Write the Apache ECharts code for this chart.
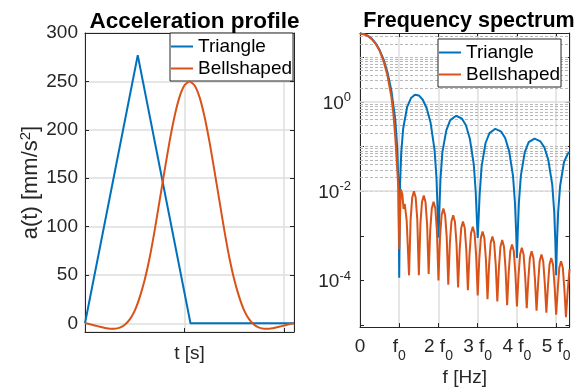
<!DOCTYPE html>
<html><head><meta charset="utf-8">
<script src="https://cdn.jsdelivr.net/npm/echarts@6/dist/echarts.min.js"></script>
<style>html,body{margin:0;padding:0;background:#fff}#c{width:574px;height:392px}</style>
</head><body><div id="c"></div>
<script>
// ---------- data ----------
// Acceleration profile (time in tick units, acceleration in mm/s^2)
const triT = [0, 0.53, 1.06, 2.1];
const triA = [0, 277, 0, 0];
const bellT = [0, 0.05, 0.1, 0.15, 0.2, 0.25, 0.3, 0.35, 0.4, 0.45, 0.5, 0.55, 0.6, 0.65, 0.7, 0.75, 0.8, 0.85, 0.9, 0.95, 1.0, 1.05,
               1.1, 1.15, 1.2, 1.25, 1.3, 1.35, 1.4, 1.45, 1.5, 1.55, 1.6, 1.65, 1.7, 1.75, 1.8, 1.85, 1.9, 1.95, 2.0, 2.05, 2.1];
const bellA = [0, -1.0, -2.3, -3.6, -4.8, -5.6, -5.6, -4.5, -1.5, 4, 13, 27, 45, 68, 96, 127, 158, 188, 214, 234, 246, 250,
               246, 234, 214, 188, 158, 127, 96, 68, 45, 27, 13, 4, -1.5, -4.5, -5.6, -5.6, -4.8, -3.6, -2.3, -1.0, 0];
const accTicks = [0, 50, 100, 150, 200, 250, 300];

// Frequency spectrum (frequency in multiples of f0)
const triF = [0, 0.1, 0.2, 0.3, 0.4, 0.5, 0.6, 0.7, 0.8, 0.9, 0.95, 0.98, 1.0, 1.02, 1.05, 1.1, 1.2, 1.3, 1.4, 1.5, 1.6, 1.7, 1.8, 1.9, 1.95, 1.98,
              2.0, 2.02, 2.05, 2.1, 2.2, 2.3, 2.45, 2.6, 2.7, 2.8, 2.9, 2.95, 2.98, 3.0, 3.02, 3.05, 3.1, 3.2, 3.3, 3.45, 3.6, 3.7, 3.8, 3.9, 3.95, 3.98,
              4.0, 4.02, 4.05, 4.1, 4.2, 4.3, 4.45, 4.6, 4.7, 4.8, 4.9, 4.95, 4.98, 5.0, 5.02, 5.05, 5.1, 5.2, 5.3, 5.34];
const triS = [34, 33, 30.5, 26, 20.5, 14.5, 9, 4.6, 1.8, 0.40, 0.093, 0.014, 0.000115, 0.013, 0.07, 0.25, 0.76, 1.22, 1.44, 1.40, 1.12, 0.72, 0.34, 0.084, 0.02, 0.0033,
              0.0009, 0.003, 0.018, 0.075, 0.23, 0.39, 0.49, 0.42, 0.30, 0.15, 0.04, 0.0095, 0.0022, 0.0009, 0.0021, 0.0085, 0.036, 0.12, 0.2, 0.25, 0.215, 0.155, 0.08, 0.022, 0.0055, 0.0012,
              0.00032, 0.0011, 0.0055, 0.022, 0.075, 0.125, 0.15, 0.13, 0.095, 0.05, 0.014, 0.0035, 0.0007, 0.00013, 0.0007, 0.0033, 0.013, 0.045, 0.07, 0.075];
const bellF = [0, 0.1, 0.2, 0.3, 0.4, 0.5, 0.6, 0.7, 0.8, 0.85, 0.9, 0.95, 0.98, 1.0, 1.04, 1.08, 1.11, 1.14, 1.19,
  1.25, 1.29, 1.33, 1.375, 1.42, 1.46,
  1.5, 1.54, 1.58, 1.625, 1.67, 1.71,
  1.75, 1.79, 1.83, 1.875, 1.92, 1.96,
  2.0, 2.04, 2.08, 2.125, 2.17, 2.21,
  2.25, 2.29, 2.33, 2.375, 2.42, 2.46,
  2.5, 2.54, 2.58, 2.625, 2.67, 2.71,
  2.75, 2.79, 2.83, 2.875, 2.92, 2.96,
  3.0, 3.04, 3.08, 3.125, 3.17, 3.21,
  3.25, 3.29, 3.33, 3.375, 3.42, 3.46,
  3.5, 3.54, 3.58, 3.625, 3.67, 3.71,
  3.75, 3.79, 3.83, 3.875, 3.92, 3.96,
  4.0, 4.04, 4.08, 4.125, 4.17, 4.21,
  4.25, 4.29, 4.33, 4.375, 4.42, 4.46,
  4.5, 4.54, 4.58, 4.625, 4.67, 4.71,
  4.75, 4.79, 4.83, 4.875, 4.92, 4.96,
  5.0, 5.04, 5.08, 5.125, 5.17, 5.21,
  5.25, 5.29, 5.34];
const bellS = [34, 33, 30, 25.5, 20, 14, 8.3, 3.9, 1.3, 0.55, 0.16, 0.03, 0.011, 0.0005, 0.011, 0.0085, 0.004, 0.0052, 0.0022,
  0.00013, 0.0023, 0.0071, 0.0100, 0.0071, 0.0023,
  0.00013, 0.00184, 0.0057, 0.0080, 0.0057, 0.00184,
  0.00014, 0.00133, 0.0041, 0.0058, 0.0041, 0.00133,
  0.00010, 0.00094, 0.0029, 0.0041, 0.0029, 0.00094,
  0.00008, 0.00067, 0.00206, 0.0029, 0.00206, 0.00067,
  0.00007, 0.00048, 0.00149, 0.0021, 0.00149, 0.00048,
  0.00006, 0.00037, 0.00114, 0.0016, 0.00114, 0.00037,
  0.000046, 0.00029, 0.00089, 0.00125, 0.00089, 0.00029,
  0.000038, 0.00022, 0.00069, 0.00097, 0.00069, 0.00022,
  0.000034, 0.000184, 0.00057, 0.0008, 0.00057, 0.000184,
  0.000028, 0.000147, 0.000455, 0.00064, 0.000455, 0.000147,
  0.000026, 0.000124, 0.000383, 0.00054, 0.000383, 0.000124,
  0.000024, 0.000104, 0.00032, 0.00045, 0.00032, 0.000104,
  0.000021, 0.000087, 0.00027, 0.00038, 0.00027, 0.000087,
  0.000019, 0.000074, 0.000227, 0.00032, 0.000227, 0.000074,
  0.000017, 0.000062, 0.000192, 0.00027, 0.000192, 0.000062,
  0.000015, 0.000053, 0.00018];
const freqTickLabels = ['0', 'f0', '2 f0', '3 f0', '4 f0', '5 f0'];
const specLabelExps = [-4, -2, 0];
const seriesNames = ['Triangle', 'Bellshaped'];

// ---------- styling ----------
const FONT = 'Liberation Sans';
const AX = '#262626';
const GRIDC = '#dedede';
const MINORC = '#b8b8b8';
const BLUE = '#0072BD', ORANGE = '#D95319';
const G0 = {left: 85, top: 33, width: 209, height: 299};
const G1 = {left: 360, top: 33, width: 209.5, height: 299};

const chart = echarts.init(document.getElementById('c'), null, {renderer: 'canvas'});
const zip = (a, b) => a.map((v, i) => [v, b[i]]);

const axLine = {show: true, onZero: false, lineStyle: {color: AX, width: 1}};
const axTick = {show: true, inside: true, length: 4, lineStyle: {color: AX, width: 1}};

// minor log grid (decoration)
const minorLines = [], majorLines = [];
for (let e = -6; e <= 1; e++) {
  for (let m = 1; m <= 9; m++) {
    const v = m * Math.pow(10, e);
    if (v <= 9e-6 || v >= 35) continue;
    if (m === 1 && specLabelExps.includes(e)) majorLines.push({yAxis: v});
    else minorLines.push({yAxis: v});
  }
}

function richTick(lbl) {
  if (lbl.indexOf('f0') < 0) return '{b|' + lbl + '}';
  return '{b|' + lbl.replace('f0', 'f') + '}{s|0}';
}

function makeLegend(left, top) {
  return {data: seriesNames, orient: 'vertical', left: left, top: top, icon: 'rect', itemWidth: 22, itemHeight: 2, itemGap: 1,
    padding: [3, 1, 2, 1], backgroundColor: '#fff', borderColor: AX, borderWidth: 1, borderRadius: 0,
    textStyle: {fontFamily: FONT, fontSize: 19, color: '#000', lineHeight: 21}};
}

const option = {
  animation: false,
  backgroundColor: '#fff',
  textStyle: {fontFamily: FONT},
  title: [
    {text: 'Acceleration profile', left: 189.5, top: 5, textAlign: 'center',
     textStyle: {fontFamily: FONT, fontWeight: 'bold', fontSize: 22.5, color: '#000'}},
    {text: 'Frequency spectrum', left: 464, top: 5, textAlign: 'center',
     textStyle: {fontFamily: FONT, fontWeight: 'bold', fontSize: 21.5, color: '#000'}}
  ],
  legend: [makeLegend(170, 33), makeLegend(438, 39)],
  grid: [
    Object.assign({containLabel: false, show: false}, G0),
    Object.assign({containLabel: false, show: false}, G1)
  ],
  xAxis: [
    {type: 'value', gridIndex: 0, min: 0, max: 2.1, interval: 1, position: 'bottom',
     axisLine: axLine, axisTick: axTick, axisLabel: {show: false},
     splitLine: {show: true, lineStyle: {color: GRIDC, width: 1.5}},
     name: 't [s]', nameLocation: 'middle', nameGap: 12,
     nameTextStyle: {fontFamily: FONT, fontSize: 19, color: AX}},
    {type: 'value', gridIndex: 0, min: 0, max: 2.1, interval: 1, position: 'top',
     axisLine: axLine, axisTick: axTick, axisLabel: {show: false}, splitLine: {show: false}},
    {type: 'value', gridIndex: 1, min: 0, max: 5.34, interval: 1, position: 'bottom',
     axisLine: axLine, axisTick: axTick,
     axisLabel: {show: true, margin: 10, color: AX, fontFamily: FONT,
       formatter: v => {
         const r = Math.round(v);
         if (Math.abs(v - r) > 1e-6 || r >= freqTickLabels.length) return '';
         return richTick(freqTickLabels[r]);
       },
       rich: {b: {fontSize: 19, fontFamily: FONT, color: AX, lineHeight: 20, verticalAlign: 'top'},
              s: {fontSize: 14, fontFamily: FONT, color: AX, lineHeight: 14, padding: [12, 0, 0, 0], verticalAlign: 'top'}}},
     splitLine: {show: true, lineStyle: {color: GRIDC, width: 1.5}},
     name: 'f [Hz]', nameLocation: 'middle', nameGap: 39,
     nameTextStyle: {fontFamily: FONT, fontSize: 19, color: AX}},
    {type: 'value', gridIndex: 1, min: 0, max: 5.34, interval: 1, position: 'top',
     axisLine: axLine, axisTick: axTick, axisLabel: {show: false}, splitLine: {show: false}}
  ],
  yAxis: [
    {type: 'value', gridIndex: 0, min: -9, max: 300, position: 'left',
     axisLine: axLine, axisTick: axTick,
     axisLabel: {show: true, margin: 7, fontFamily: FONT, fontSize: 19, color: AX,
       formatter: v => accTicks.includes(v) ? String(v) : ''},
     splitLine: {show: true, lineStyle: {color: GRIDC, width: 1.5}},
     name: '{a|a(t) [mm/s}{s|2}{a|]}', nameLocation: 'middle', nameGap: 41, nameRotate: 90,
     nameTextStyle: {fontFamily: FONT, color: AX,
       rich: {a: {fontSize: 22, fontFamily: FONT, color: AX, lineHeight: 24, verticalAlign: 'bottom'},
              s: {fontSize: 15, fontFamily: FONT, color: AX, lineHeight: 15, verticalAlign: 'top'}}}},
    {type: 'value', gridIndex: 0, min: -9, max: 300, position: 'right',
     axisLine: axLine, axisTick: axTick, axisLabel: {show: false}, splitLine: {show: false}},
    {type: 'log', logBase: 10, gridIndex: 1, min: 9e-6, max: 35, position: 'left',
     axisLine: axLine, axisTick: axTick,
     axisLabel: {show: true, margin: 9, fontFamily: FONT, color: AX,
       formatter: v => {
         const e = Math.log10(v), r = Math.round(e);
         if (Math.abs(e - r) > 1e-6 || !specLabelExps.includes(r)) return '';
         return '{b|10}{s|' + r + '}';
       },
       rich: {b: {fontSize: 19, fontFamily: FONT, color: AX, lineHeight: 22, verticalAlign: 'bottom'},
              s: {fontSize: 13, fontFamily: FONT, color: AX, lineHeight: 13, verticalAlign: 'top'}}},
     splitLine: {show: false}},
    {type: 'log', logBase: 10, gridIndex: 1, min: 9e-6, max: 35, position: 'right',
     axisLine: axLine, axisTick: axTick, axisLabel: {show: false}, splitLine: {show: false}}
  ],
  series: [
    {name: 'Triangle', type: 'line', xAxisIndex: 0, yAxisIndex: 0, data: zip(triT, triA), symbol: 'none', z: 3,
     lineStyle: {color: BLUE, width: 2}, itemStyle: {color: BLUE}},
    {name: 'Bellshaped', type: 'line', xAxisIndex: 0, yAxisIndex: 0, data: zip(bellT, bellA), symbol: 'none', z: 4, smooth: 0.2,
     lineStyle: {color: ORANGE, width: 2}, itemStyle: {color: ORANGE}},
    {name: 'grid-deco', type: 'line', xAxisIndex: 2, yAxisIndex: 2, data: [], symbol: 'none', z: 1, silent: true,
     markLine: {silent: true, symbol: 'none', animation: false, label: {show: false}, z: 1,
       data: minorLines.map(d => Object.assign({lineStyle: {color: MINORC, type: [3, 2], width: 1}}, d))
         .concat(majorLines.map(d => Object.assign({lineStyle: {color: GRIDC, type: 'solid', width: 1.5}}, d)))}},
    {name: 'Triangle', type: 'line', xAxisIndex: 2, yAxisIndex: 2, data: zip(triF, triS), symbol: 'none', z: 3,
     lineStyle: {color: BLUE, width: 2}, itemStyle: {color: BLUE}},
    {name: 'Bellshaped', type: 'line', xAxisIndex: 2, yAxisIndex: 2, data: zip(bellF, bellS), symbol: 'none', z: 4,
     lineStyle: {color: ORANGE, width: 2}, itemStyle: {color: ORANGE}}
  ]
};
chart.setOption(option);
</script>
</body></html>
